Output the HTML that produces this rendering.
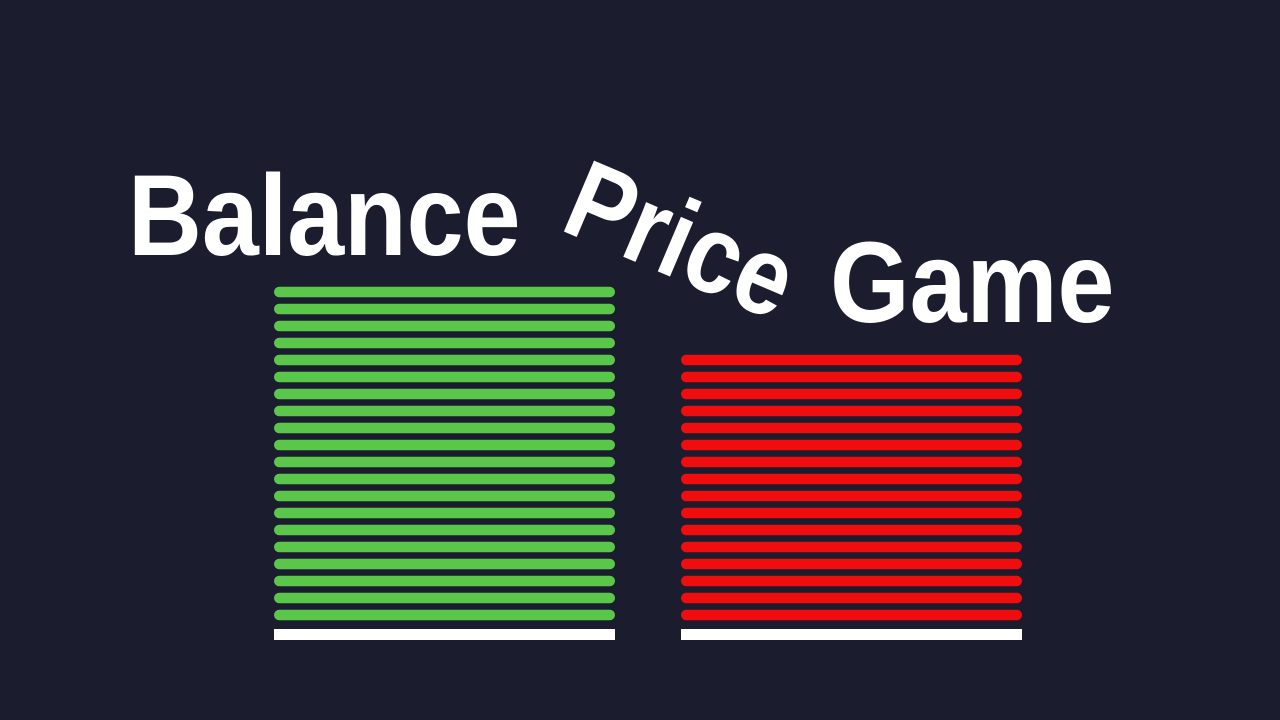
<!DOCTYPE html>
<html><head><meta charset="utf-8"><style>
html,body{margin:0;padding:0;background:#1b1d2e;width:1280px;height:720px;overflow:hidden}
text{font-family:"Liberation Sans",sans-serif;font-weight:bold;fill:#fff}
</style></head><body>
<svg id="chart" width="1280" height="720" viewBox="0 0 1280 720">
<rect width="1280" height="720" fill="#1b1d2e"/>
<text font-size="115" transform="translate(128,255) scale(0.89,1)">Balance</text>
<text font-size="112" transform="translate(558,229) rotate(23) scale(0.86,1)">Price</text>
<text font-size="115" transform="translate(830,322) scale(0.89,1)">Game</text>
<g id="marks"></g>
</svg>
<script>
const categories = ["buy", "sell"];
const values = [20, 16];
const colors = ["#5ac74b", "#f00d0d"];
const ns = "http://www.w3.org/2000/svg";
const g = document.getElementById("marks");
const baseY = 615, step = 17, barH = 10.5, barW = 341;
function xPos(i){ return 274 + i * 407; }
function yPos(k){ return baseY - k * step; }
categories.forEach((c, i) => {
  for (let k = 0; k < values[i]; k++) {
    const r = document.createElementNS(ns, "rect");
    r.setAttribute("x", xPos(i));
    r.setAttribute("y", yPos(k) - barH / 2);
    r.setAttribute("width", barW);
    r.setAttribute("height", barH);
    r.setAttribute("rx", 5.25);
    r.setAttribute("fill", colors[i]);
    
    
    g.appendChild(r);
  }
  const b = document.createElementNS(ns, "rect");
  b.setAttribute("x", xPos(i));
  b.setAttribute("y", 629);
  b.setAttribute("width", barW);
  b.setAttribute("height", 11);
  b.setAttribute("fill", "#ffffff");
  
  
  g.appendChild(b);
});
</script>
</body></html>
